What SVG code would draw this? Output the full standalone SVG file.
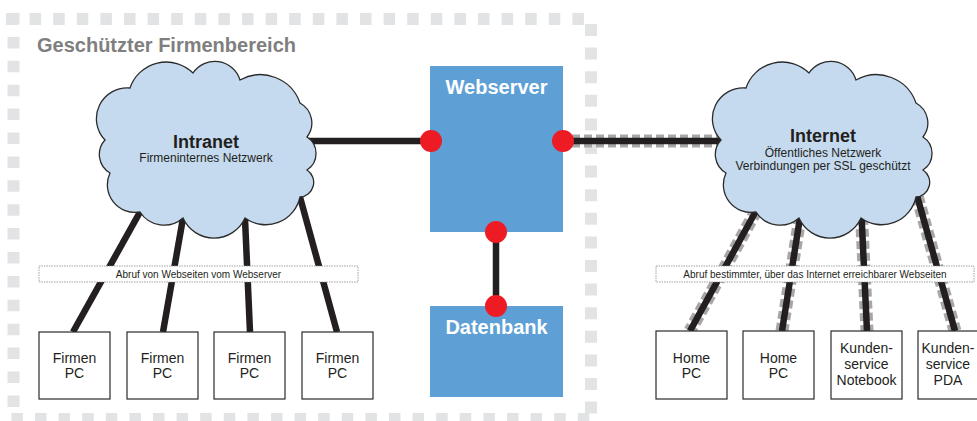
<svg xmlns="http://www.w3.org/2000/svg" width="977" height="421" viewBox="0 0 977 421">
  <defs>
    <style>
      .zone{fill:none;stroke:#e2e3e5;stroke-width:12}
      .title{font:bold 20px 'Liberation Sans',Arial,sans-serif;fill:#7f7f7f}
      .cloud{fill:#c5daef;stroke:#2b2b2b;stroke-width:1.3}
      .h{font:bold 18px 'Liberation Sans',Arial,sans-serif;fill:#231f20;text-anchor:middle}
      .sub{font:12px 'Liberation Sans',Arial,sans-serif;fill:#231f20;text-anchor:middle}
      .srv{fill:#5e9fd6}
      .srvt{font:bold 20px 'Liberation Sans',Arial,sans-serif;fill:#fff;text-anchor:middle}
      .port{fill:#ed1c24}
      .pc{fill:#fff;stroke:#2b2b2b;stroke-width:1.2}
      .pct{font:14px 'Liberation Sans',Arial,sans-serif;fill:#231f20;text-anchor:middle}
      .wire{stroke:#231f20;stroke-width:6.5;fill:none}
      .ssl{stroke:#a7a7a7;stroke-width:13;stroke-dasharray:8 4;fill:none}
      .lbl{fill:#fff;stroke:#8a8a8a;stroke-width:0.8;stroke-dasharray:1.5 1}
      .lblt{font:10px 'Liberation Sans',Arial,sans-serif;fill:#231f20;text-anchor:middle}
    </style>
    <!-- cloud outline, local origin at its top-left corner -->
    <path id="cloud" d="M33,26 A38.2,38.2 0 0 1 96,11 A26.3,26.3 0 0 1 143,18 A41.9,41.9 0 0 1 203,41 A22.8,22.8 0 0 1 210,75 A19.6,19.6 0 0 1 210,108 A14.7,14.7 0 0 1 203,135 A35.1,35.1 0 0 1 148,156 A34,34 0 0 1 86,156 A28.6,28.6 0 0 1 43,150 A27.7,27.7 0 0 1 13,111 A21.4,21.4 0 0 1 8,78 A30.8,30.8 0 0 1 33,26 Z"/>
  </defs>

  <rect width="977" height="421" fill="#fff"/>

  <!-- protected company zone: dotted frame and title -->
  <g id="zone">
    <line class="zone" x1="6" y1="19" x2="586" y2="19" stroke-dasharray="11.5 12.1"/>
    <line class="zone" x1="591" y1="24" x2="591" y2="414" stroke-dasharray="12 11.6"/>
    <line class="zone" x1="11.4" y1="419" x2="592" y2="419" stroke-dasharray="11.5 12.1"/>
    <line class="zone" x1="13.5" y1="13" x2="13.5" y2="407" stroke-dasharray="11.5 12.4"/>
    <text class="title" x="37" y="52">Geschützter Firmenbereich</text>
  </g>

  <g id="connectors">
    <!-- intranet links -->
    <line class="wire" x1="300" y1="141" x2="431" y2="141"/>
    <line class="wire" x1="146.7" y1="200" x2="73" y2="332"/>
    <line class="wire" x1="185.3" y1="205" x2="163" y2="332"/>
    <line class="wire" x1="244.4" y1="205" x2="250" y2="332"/>
    <line class="wire" x1="296.7" y1="185" x2="337" y2="332"/>
    <line class="wire" x1="496" y1="232" x2="496" y2="306"/>
    <!-- SSL-secured internet links -->
    <line class="ssl" x1="560" y1="141" x2="722" y2="141"/>
    <line class="wire" x1="563" y1="141" x2="718" y2="141"/>
    <polygon points="718,137.75 733,141 718,144.25" fill="#231f20"/>
    <line class="ssl" x1="762" y1="200" x2="690" y2="331"/>
    <line class="wire" x1="762" y1="200" x2="690" y2="331"/>
    <line class="ssl" x1="802" y1="205" x2="782" y2="331"/>
    <line class="wire" x1="802" y1="205" x2="782" y2="331"/>
    <line class="ssl" x1="861" y1="205" x2="867" y2="331"/>
    <line class="wire" x1="861" y1="205" x2="867" y2="331"/>
    <line class="ssl" x1="914" y1="185" x2="955" y2="331"/>
    <line class="wire" x1="914" y1="185" x2="955" y2="331"/>
    <!-- link labels -->
    <rect class="lbl" x="39" y="266" width="319" height="16"/>
    <text class="lblt" x="198.5" y="278">Abruf von Webseiten vom Webserver</text>
    <rect class="lbl" x="656" y="266" width="318" height="16"/>
    <text class="lblt" x="815" y="278">Abruf bestimmter, über das Internet erreichbarer Webseiten</text>
  </g>

  <g id="intranet">
    <use href="#cloud" class="cloud" transform="translate(97,62)"/>
    <text class="h" x="206" y="148">Intranet</text>
    <text class="sub" x="206" y="162">Firmeninternes Netzwerk</text>
  </g>

  <g id="internet">
    <use href="#cloud" class="cloud" transform="translate(713,62)"/>
    <text class="h" x="823" y="142">Internet</text>
    <text class="sub" x="823" y="157">Öffentliches Netzwerk</text>
    <text class="sub" x="823" y="170">Verbindungen per SSL geschützt</text>
  </g>

  <g id="webserver">
    <rect class="srv" x="430" y="66" width="133" height="166"/>
    <text class="srvt" x="496.5" y="94">Webserver</text>
    <circle class="port" cx="431" cy="141" r="11"/>
    <circle class="port" cx="563" cy="141" r="11"/>
    <circle class="port" cx="496" cy="232" r="11"/>
  </g>

  <g id="datenbank">
    <rect class="srv" x="430" y="306" width="133" height="91"/>
    <circle class="port" cx="496" cy="306" r="11"/>
    <text class="srvt" x="496.5" y="334">Datenbank</text>
  </g>

  <g id="pc1"><rect class="pc" x="39" y="332" width="71" height="67"/><text class="pct" x="74.5" y="363">Firmen</text><text class="pct" x="74.5" y="378">PC</text></g>
  <g id="pc2"><rect class="pc" x="127" y="332" width="71" height="67"/><text class="pct" x="162.5" y="363">Firmen</text><text class="pct" x="162.5" y="378">PC</text></g>
  <g id="pc3"><rect class="pc" x="214" y="332" width="71" height="67"/><text class="pct" x="249.5" y="363">Firmen</text><text class="pct" x="249.5" y="378">PC</text></g>
  <g id="pc4"><rect class="pc" x="302" y="332" width="71" height="67"/><text class="pct" x="337.5" y="363">Firmen</text><text class="pct" x="337.5" y="378">PC</text></g>

  <g id="home1"><rect class="pc" x="656" y="331" width="71" height="68"/><text class="pct" x="691.5" y="363">Home</text><text class="pct" x="691.5" y="378">PC</text></g>
  <g id="home2"><rect class="pc" x="743" y="331" width="71" height="68"/><text class="pct" x="778.5" y="363">Home</text><text class="pct" x="778.5" y="378">PC</text></g>
  <g id="notebook"><rect class="pc" x="831" y="331" width="71" height="68"/><text class="pct" x="866.5" y="353">Kunden-</text><text class="pct" x="866.5" y="369">service</text><text class="pct" x="866.5" y="385">Notebook</text></g>
  <g id="pda"><rect class="pc" x="918" y="331" width="71" height="68"/><text class="pct" x="948" y="353">Kunden-</text><text class="pct" x="948" y="369">service</text><text class="pct" x="948" y="385">PDA</text></g>
</svg>
